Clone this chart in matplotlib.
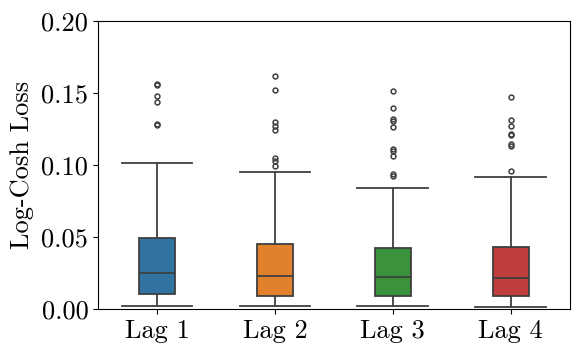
import numpy as np
import matplotlib
matplotlib.use("Agg")
import matplotlib.pyplot as plt

plt.rcParams['font.family'] = 'serif'
plt.rcParams['font.serif'] = ['cmr10']
plt.rcParams['mathtext.fontset'] = 'cm'
plt.rcParams['axes.formatter.use_mathtext'] = True
plt.rcParams['axes.unicode_minus'] = False

# box stats
labels = ['Lag 1', 'Lag 2', 'Lag 3', 'Lag 4']
whislo = [0.0026, 0.0021, 0.0021, 0.0016]
q1 = [0.0104, 0.0095, 0.0095, 0.0090]
med = [0.0251, 0.0233, 0.0224, 0.0217]
q3 = [0.0493, 0.0454, 0.0426, 0.0431]
whishi = [0.1015, 0.0950, 0.0841, 0.0915]
fliers = [
    [0.1562, 0.1553, 0.1475, 0.1436, 0.1284, 0.1280],
    [0.1614, 0.1521, 0.1296, 0.1272, 0.1243, 0.1049, 0.1030, 0.0996],
    [0.1512, 0.1395, 0.1319, 0.1307, 0.1266, 0.1111, 0.1095, 0.1060, 0.0938, 0.0922],
    [0.1468, 0.1314, 0.1272, 0.1215, 0.1210, 0.1146, 0.1129, 0.0957],
]
colors = ['#3274a1', '#e1812c', '#3a923a', '#c03d3e']

stats = []
for i in range(len(labels)):
    stats.append(dict(label=labels[i], whislo=whislo[i], q1=q1[i], med=med[i],
                      q3=q3[i], whishi=whishi[i], fliers=fliers[i]))

fig = plt.figure(figsize=(5.81, 3.56), dpi=100)
ax = fig.add_axes([0.1687, 0.131, 0.812, 0.811])

lc = '#3f3f3f'
bp = ax.bxp(stats, positions=np.arange(len(labels)), widths=0.3, patch_artist=True,
            boxprops=dict(edgecolor=lc, linewidth=1.3),
            medianprops=dict(color=lc, linewidth=1.3),
            whiskerprops=dict(color=lc, linewidth=1.3),
            capprops=dict(color=lc, linewidth=1.3),
            capwidths=0.6,
            flierprops=dict(marker='o', markersize=3.5, markerfacecolor='none',
                            markeredgecolor=lc, markeredgewidth=1.1))
for patch, c in zip(bp['boxes'], colors):
    patch.set_facecolor(c)

ax.set_xlim(-0.5, 3.5)
ax.set_ylim(0, 0.2)
ax.set_yticks([0, 0.05, 0.10, 0.15, 0.20])
ax.set_yticklabels(['0.00', '0.05', '0.10', '0.15', '0.20'])
ax.set_xticks(np.arange(len(labels)))
ax.set_xticklabels(labels)
ax.tick_params(labelsize=19)
ax.set_ylabel('Log-Cosh Loss', fontsize=19, labelpad=5)

fig.savefig('out.png', dpi=100)
